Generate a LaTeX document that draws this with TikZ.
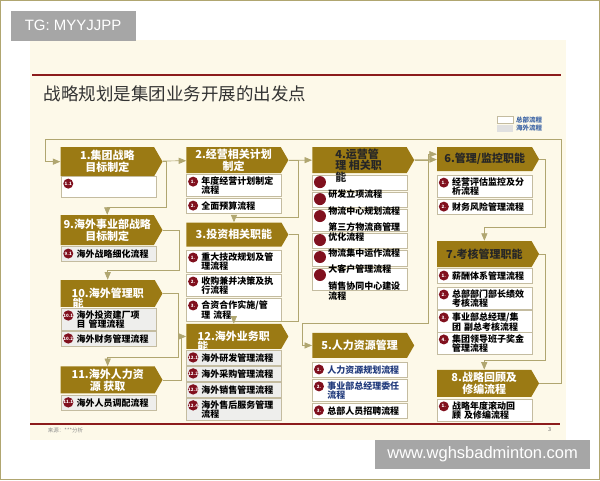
\documentclass[tikz,border=0pt]{standalone}
\usepackage{fontspec}
\newfontfamily\cjk{Noto Sans CJK SC}
\newfontfamily\wmfont{Liberation Sans}
\usepackage{tikz}
\usetikzlibrary{arrows, shapes.symbols}

\definecolor{slide}{RGB}{253,249,233}
\definecolor{gold}{RGB}{155,122,20}
\definecolor{rulered}{RGB}{140,28,28}
\definecolor{badgered}{RGB}{128,16,30}
\definecolor{wire}{RGB}{176,166,112}
\definecolor{frame}{RGB}{196,188,160}
\definecolor{navy}{RGB}{35,60,125}
\definecolor{legendblue}{RGB}{60,100,165}
\definecolor{abroad}{RGB}{238,238,236}
\definecolor{wmgrey}{RGB}{166,166,166}

\begin{document}
\begin{tikzpicture}[
            x = 1pt, y = -1pt, % one unit per pixel of the slide
            > = triangle 45, % arrow head style
            line width = 0.7pt,
            every node/.style={font=\cjk},
            head/.style={signal, signal to=east, signal pointer angle=120,
                fill=gold, text=white, anchor=west,
                minimum width=102pt, minimum height=#1, inner sep=1pt, align=center,
                font=\cjk\bfseries\fontsize{11}{12}\selectfont},
            head/.default=27pt,
            htext/.style={inner sep=0pt, text=white, anchor=west,
                font=\cjk\bfseries\fontsize{11}{11.5}\selectfont},
            item/.style={rectangle, draw=frame, fill=white, anchor=north west,
                minimum width=95pt, text width=89pt, minimum height=15pt,
                inner xsep=3pt, inner ysep=2pt, align=left,
                font=\cjk\bfseries\fontsize{9}{9.3}\selectfont,
                execute at begin node={\leftskip=12pt}},
            oitem/.style={item, fill=abroad},
            bare/.style={item, minimum height=#1},
            badge/.style={circle, fill=badgered, text=white, minimum size=10pt,
                inner sep=0pt, anchor=center, xshift=7pt, yshift=-7.5pt,
                font=\cjk\bfseries\fontsize{4.5}{5}\selectfont},
            num/.style={label={[badge]north west:#1}},
            dot/.style={label={[badge, minimum size=12pt, xshift=1pt, yshift=0.5pt]north west:{}}},
            itxt/.style={anchor=west, inner sep=0pt, align=left,
                font=\cjk\bfseries\fontsize{9}{8.5}\selectfont}
        ]

        \tikzstyle{every path}=[draw=wire, fill=none] % connectors
        \tikzstyle{wm}=[anchor=north west, fill=wmgrey, text=white, inner sep=0pt]

        \useasboundingbox (0,0) rectangle (600,480);

        % slide
        \fill[slide] (30,40) rectangle (566,440);
        \draw[rulered, line width=2pt] (32,75) -- (561,75);
        \draw[rulered, line width=1.5pt] (30,424) -- (560,424);
        \node[anchor=west, text=black!80, font=\cjk\fontsize{17.5}{18}\selectfont] (title) at (40,94) {战略规划是集团业务开展的出发点};
        \node[anchor=west, text=black!45, font=\cjk\fontsize{5.5}{6}\selectfont] (source) at (44,431) {来源：***分析};
        \node[text=black!60, font=\cjk\fontsize{5.5}{6}\selectfont] (page) at (550,430) {3};

        % legend
        \node[anchor=west, draw=frame, fill=white, minimum width=16pt, minimum height=7pt, inner sep=0pt] (leg1) at (497,119.5) {};
        \node[anchor=west, fill=black!12, minimum width=16pt, minimum height=7pt, inner sep=0pt] (leg2) at (497,128) {};
        \node[anchor=west, inner sep=0pt, text=legendblue, font=\cjk\bfseries\fontsize{6.5}{7}\selectfont] (legt1) at (516,119.5) {总部流程};
        \node[anchor=west, inner sep=0pt, text=legendblue, font=\cjk\bfseries\fontsize{6.5}{7}\selectfont] (legt2) at (516,128) {海外流程};

        % headers
        \node[head=29pt] (h1) at (60,161.5) {1.集团战略\\目标制定};
        \node[head=30pt] (h9) at (60,230) {9.海外事业部战略\\目标制定};
        \node[head] (h10) at (60,293.5) {10.海外管理职};
        \node[head] (h11) at (60,380) {11.海外人力资\\源 获取};
        \node[head=26pt] (h2) at (186,160) {2.经营相关计划\\制定};
        \node[head=24pt] (h3) at (186,234.5) {3.投资相关职能};
        \node[head=25pt] (h12) at (186,336.5) {12.海外业务职};
        \node[head=26pt] (h4) at (312,160) {};
        \node[head=25pt] (h5) at (312,345.5) {5.人力资源管理};
        \node[head=24pt, text=black!85] (h6) at (437,159) {6.管理/监控职能};
        \node[head=26pt, text=black!85] (h7) at (437,254) {7.考核管理职能};
        \node[head] (h8) at (437,383.5) {8.战略回顾及\\修编流程};
        \node[htext] (h10b) at (72,303) {能};
        \node[htext] (h12b) at (197,346) {能};

        % column 1
        \node[item, minimum height=21pt, num=1.1] (i11) at (61,176) {};
        \node[oitem, num=9.1] (i91) at (61,246) {海外战略细化流程};
        \node[oitem, num=10.1] (i101) at (61,308) {海外投资建厂项\\目 管理流程};
        \node[oitem, num=10.2] (i102) at (61,331) {海外财务管理流程};
        \node[oitem, num=11.1] (i111) at (61,395) {海外人员调配流程};

        % column 2
        \node[item, num=1.] (i21) at (186,174) {年度经营计划制定\\流程};
        \node[item, num=2.] (i22) at (186,198) {全面预算流程};
        \node[item, num=1.] (i31) at (186,250) {重大技改规划及管\\理流程};
        \node[item, num=2.] (i32) at (186,274) {收购兼并决策及执\\行流程};
        \node[item, num=3.] (i33) at (186,298) {合资合作实施/管\\理 流程};
        \node[oitem, num=12.1] (i121) at (186,350) {海外研发管理流程};
        \node[oitem, num=12.2] (i122) at (186,366) {海外采购管理流程};
        \node[oitem, num=12.3] (i123) at (186,382) {海外销售管理流程};
        \node[oitem, num=12.4] (i124) at (186,398) {海外售后服务管理\\流程};

        % column 3
        \node[bare=15pt, dot] (i4a) at (312,175) {};
        \node[bare=15pt, dot] (i4b) at (312,192) {};
        \node[bare=22pt, dot] (i4c) at (312,209) {};
        \node[bare=15pt, dot] (i4d) at (312,233) {};
        \node[bare=16pt, dot] (i4e) at (312,250) {};
        \node[bare=22pt, dot] (i4f) at (312,268) {};
        \node[itxt] (t4a) at (328,194) {研发立项流程};
        \node[itxt] (t4b) at (328,211) {物流中心规划流程};
        \node[itxt] (t4c) at (328,232) {第三方物流商管理\\优化流程};
        \node[itxt] (t4d) at (328,253) {物流集中运作流程};
        \node[itxt] (t4e) at (328,269) {大客户管理流程};
        \node[itxt] (t4f) at (328,291) {销售协同中心建设\\流程};
        \node[htext, text=black!85, align=left, anchor=north west] (h4t) at (335,148) {4.运营管\\理 相关职\\能};
        \node[item, num=1., text=navy] (i51) at (312,362) {人力资源规划流程};
        \node[item, num=2., text=navy] (i52) at (312,379) {事业部总经理委任\\流程};
        \node[item, num=3.] (i53) at (312,403) {总部人员招聘流程};

        % column 4
        \node[item, num=1.] (i61) at (437,175) {经营评估监控及分\\析流程};
        \node[item, num=2.] (i62) at (437,199) {财务风险管理流程};
        \node[item, num=1.] (i71) at (437,268) {薪酬体系管理流程};
        \node[item, num=2.] (i72) at (437,287) {总部部门部长绩效\\考核流程};
        \node[item, num=3.] (i73) at (437,310) {事业部总经理/集\\团 副总考核流程};
        \node[item, num=4.] (i74) at (437,332) {集团领导班子奖金\\管理流程};
        \node[item, num=1.] (i81) at (437,399) {战略年度滚动回\\顾 及修编流程};

        % bends of the long connectors
        \coordinate (r45) at (428,323);
        \coordinate (l45) at (302,323);
        \coordinate (loopr) at (562,139);
        \coordinate (loopl) at (45,139);

        \path[->] (h1) edge (h2)
                  (h2) edge (h4)
                  (h4) edge (h6);
        \draw[->] (h1.east) -| ++(3,45.5) -| (h9.north);
        \draw[->] (h9.east) -| ++(16,40) -| (h10.north);
        \draw[->] (h10.east) -| ++(15,63.5) -| (h11.north);
        \draw[->] (h11.east) -| ([xshift=-5pt]h12.west) -- (h12.west);
        \draw[->] (h2.east) -| ++(10,57) -| (h3.north);
        \draw[->] (h3.east) -| ++(10,86.5) -| (h12.north);
        \draw[->] (h4.east) -| (r45) -- (l45) |- (h5.west);
        \draw[->] (r45) |- ([yshift=5pt]h6.west);
        \draw[->] (h6.east) -| ++(6,68) -| (h7.north);
        \draw[->] (h7.east) -| ++(6,106) -| (h8.north);
        \draw[->] (h8.east) -| (loopr) -- (loopl) |- (h1.west);

        % watermarks
        \node[wm, minimum width=125pt, minimum height=30pt, font=\wmfont\fontsize{15}{15}\selectfont] (tg) at (10,10) {TG: MYYJJPP};
        \node[wm, minimum width=215pt, minimum height=29pt, font=\wmfont\fontsize{16.5}{17}\selectfont] (site) at (375,440) {www.wghsbadminton.com};

    \end{tikzpicture}
\end{document}
